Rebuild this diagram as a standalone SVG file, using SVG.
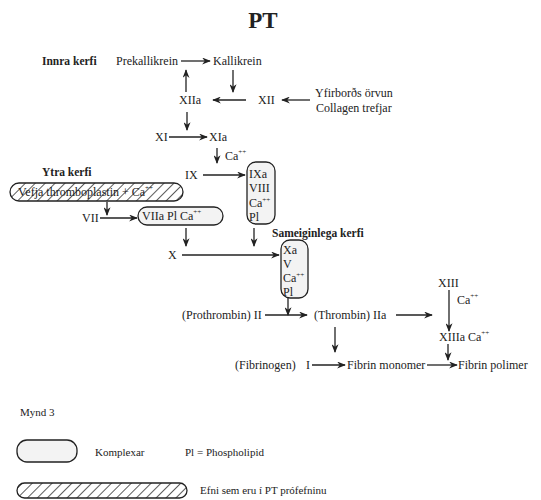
<svg xmlns="http://www.w3.org/2000/svg" width="541" height="500" viewBox="0 0 541 500">
<defs>
<style>
text{font-family:"Liberation Serif","Times New Roman",serif;font-size:12px;fill:#222}
.b{font-weight:bold;font-size:11.5px}
.t{font-weight:bold;font-size:23px}
.s{font-size:7px}
.c{fill:#f3f3f3;stroke:#222;stroke-width:1.3}
.h{fill:url(#hatch);stroke:#222;stroke-width:1.3}
.a{stroke:#222;stroke-width:1.3;fill:none;marker-end:url(#ah)}
</style>
<marker id="ah" viewBox="0 0 10 8" refX="9" refY="4" markerWidth="9" markerHeight="7" markerUnits="userSpaceOnUse" orient="auto">
<path d="M0,0 L10,4 L0,8 L3,4 z" fill="#222"/>
</marker>
<pattern id="hatch" patternUnits="userSpaceOnUse" width="7" height="7" patternTransform="rotate(45)">
<rect width="7" height="7" fill="#fff"/>
<line x1="0" y1="0" x2="0" y2="7" stroke="#333" stroke-width="1.6"/>
</pattern>
</defs>
<rect width="541" height="500" fill="#fff"/>
<text class="t" x="263" y="28" text-anchor="middle">PT</text>

<g id="connectors">
<line class="a" x1="181" y1="61" x2="210" y2="61"/>
<line class="a" x1="233" y1="70" x2="233" y2="92"/>
<line class="a" x1="186" y1="92" x2="186" y2="70"/>
<line class="a" x1="246" y1="100" x2="213" y2="100"/>
<line class="a" x1="310" y1="100" x2="282" y2="100"/>
<line class="a" x1="187" y1="112" x2="187" y2="130"/>
<line class="a" x1="169" y1="137" x2="207" y2="137"/>
<line class="a" x1="217" y1="148" x2="217" y2="163"/>
<line class="a" x1="203" y1="175" x2="245" y2="175"/>
<line class="a" x1="107" y1="202" x2="107" y2="215"/>
<line class="a" x1="100" y1="218" x2="137" y2="218"/>
<line class="a" x1="186" y1="228" x2="186" y2="246"/>
<line class="a" x1="254" y1="228" x2="254" y2="246"/>
<line class="a" x1="182" y1="255" x2="279" y2="255"/>
<line class="a" x1="288" y1="292" x2="288" y2="315"/>
<line class="a" x1="265" y1="315" x2="307" y2="315"/>
<line class="a" x1="396" y1="315" x2="432" y2="315"/>
<line class="a" x1="449" y1="290" x2="449" y2="331"/>
<line class="a" x1="448" y1="344" x2="448" y2="360"/>
<line class="a" x1="335" y1="327" x2="335" y2="352"/>
<line class="a" x1="312" y1="365" x2="345" y2="365"/>
<line class="a" x1="427" y1="365" x2="457" y2="365"/>
</g>

<g id="labels">
<text class="b" x="42" y="65">Innra kerfi</text>
<text class="b" x="42" y="176">Ytra kerfi</text>
<text class="b" x="272" y="237">Sameiginlega kerfi</text>
</g>

<g id="prekallikrein"><text x="116" y="65">Prekallikrein</text></g>
<g id="kallikrein"><text x="213" y="65">Kallikrein</text></g>
<g id="xiia"><text x="179" y="104">XIIa</text></g>
<g id="xii"><text x="258" y="104">XII</text></g>
<g id="surface"><text x="315" y="97">Yfirborðs örvun</text><text x="316" y="112">Collagen trefjar</text></g>
<g id="xi"><text x="155" y="141">XI</text></g>
<g id="xia"><text x="209" y="141">XIa</text></g>
<g id="ca1"><text x="225" y="160">Ca<tspan class="s" dy="-6">++</tspan></text></g>
<g id="ix"><text x="185" y="179">IX</text></g>
<g id="ixa-complex">
<rect class="c" x="247" y="162" width="28" height="62" rx="9"/>
<text x="249" y="178">IXa</text>
<text x="249" y="192">VIII</text>
<text x="249" y="207">Ca<tspan class="s" dy="-5">++</tspan></text>
<text x="249" y="221">Pl</text>
</g>
<g id="tissue-thromboplastin">
<rect class="h" x="10" y="183" width="173" height="18" rx="9"/>
<text x="18" y="196">Vefja thromboplastin + Ca<tspan class="s" dy="-6">++</tspan></text>
</g>
<g id="vii"><text x="82" y="222">VII</text></g>
<g id="viia-complex">
<rect class="c" x="138" y="207" width="85" height="18" rx="9"/>
<text x="142" y="220">VIIa  Pl  Ca<tspan class="s" dy="-6">++</tspan></text>
</g>
<g id="x"><text x="168" y="259">X</text></g>
<g id="xa-complex">
<rect class="c" x="281" y="240" width="27" height="58" rx="9"/>
<text x="283" y="254">Xa</text>
<text x="283" y="268">V</text>
<text x="283" y="282">Ca<tspan class="s" dy="-5">++</tspan></text>
<text x="283" y="296">Pl</text>
</g>
<g id="prothrombin"><text x="182" y="319">(Prothrombin) II</text></g>
<g id="thrombin"><text x="314" y="319">(Thrombin) IIa</text></g>
<g id="xiii"><text x="438" y="287">XIII</text></g>
<g id="ca2"><text x="457" y="304">Ca<tspan class="s" dy="-6">++</tspan></text></g>
<g id="xiiia"><text x="439" y="341">XIIIa  Ca<tspan class="s" dy="-6">++</tspan></text></g>
<g id="fibrinogen"><text x="235" y="369">(Fibrinogen)</text><text x="306" y="369">I</text></g>
<g id="fibrin-monomer"><text x="347" y="369">Fibrin monomer</text></g>
<g id="fibrin-polimer"><text x="458" y="369">Fibrin polimer</text></g>

<g id="legend">
<text x="20" y="416" style="font-size:11px">Mynd 3</text>
<rect class="c" x="17" y="440" width="60" height="22" rx="10"/>
<text x="95" y="456" style="font-size:11px">Komplexar</text>
<text x="185" y="456" style="font-size:11px">Pl = Phospholipid</text>
<rect class="h" x="17" y="483" width="170" height="15" rx="7.5"/>
<text x="200" y="494" style="font-size:11px">Efni sem eru í PT prófefninu</text>
</g>
</svg>
